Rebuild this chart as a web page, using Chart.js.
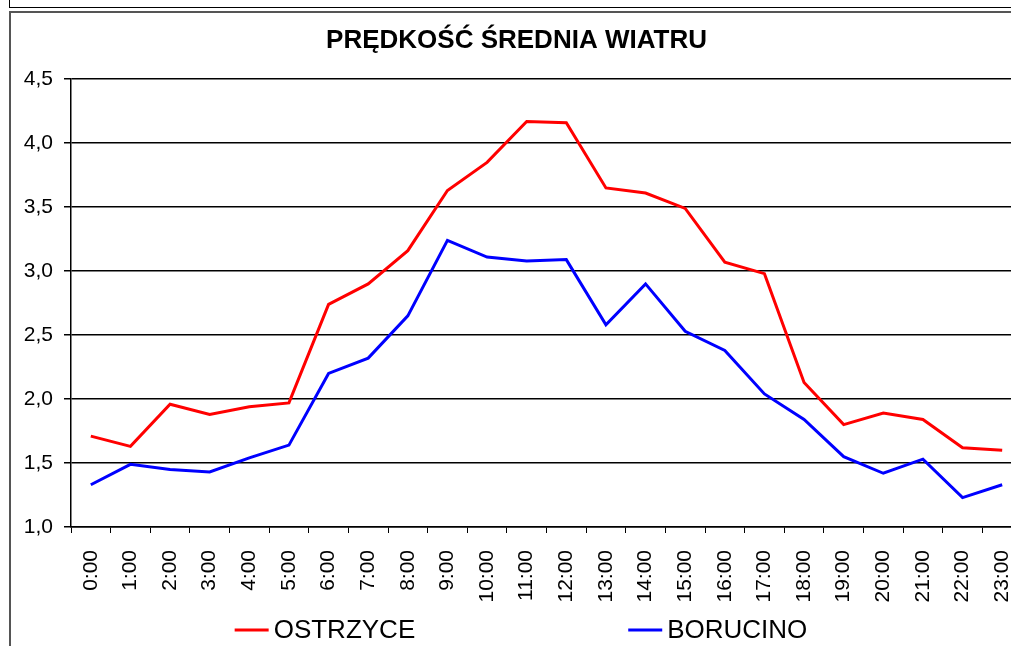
<!DOCTYPE html>
<html>
<head>
<meta charset="utf-8">
<title>Prędkość średnia wiatru</title>
<script src="https://cdn.jsdelivr.net/npm/chart.js@4.4.0/dist/chart.umd.min.js"></script>
<style>
  html, body { margin: 0; padding: 0; overflow: hidden; background: #fff; width: 1011px; height: 646px; }
  #topBox { position: absolute; left: 9px; top: -20px; width: 1100px; height: 26px; border: 1px solid #000; }
  #chartBox { position: absolute; left: 9px; top: 11px; width: 1100px; height: 700px; border-left: 2px solid #555; border-top: 2px solid #555; }
  #wrap { position: absolute; left: 11px; top: 13px; }
</style>
</head>
<body>
<div id="topBox"></div>
<div id="chartBox"></div>
<div id="wrap"><canvas id="chart" width="1020" height="660"></canvas></div>
<script>
const hours = ['0:00', '1:00', '2:00', '3:00', '4:00', '5:00', '6:00', '7:00', '8:00', '9:00', '10:00', '11:00',
  '12:00', '13:00', '14:00', '15:00', '16:00', '17:00', '18:00', '19:00', '20:00', '21:00', '22:00', '23:00'];

const ostrzyce = [1.71, 1.63, 1.96, 1.88, 1.94, 1.97, 2.74, 2.90, 3.16, 3.63, 3.85, 4.17,
  4.16, 3.65, 3.61, 3.49, 3.07, 2.98, 2.13, 1.80, 1.89, 1.84, 1.62, 1.60];

const borucino = [1.33, 1.49, 1.45, 1.43, 1.54, 1.64, 2.20, 2.32, 2.65, 3.24, 3.11, 3.08,
  3.09, 2.58, 2.90, 2.53, 2.38, 2.04, 1.84, 1.55, 1.42, 1.53, 1.23, 1.33];

const yMin = 1.0;
const yMax = 4.5;
const yStep = 0.5;

const FONT = '"Liberation Sans", Arial, sans-serif';
Chart.defaults.font.family = FONT;
Chart.defaults.color = '#000';

// legend drawn by hand: Excel puts the two entries far apart
const bottomLegend = {
  id: 'bottomLegend',
  afterDraw(chart) {
    const ctx = chart.ctx;
    const y = 617, lineLen = 34, gap = 213;
    ctx.save();
    ctx.font = '26px ' + FONT;
    ctx.textBaseline = 'middle';
    const items = chart.data.datasets.map(ds => ({ ds, w: lineLen + 5 + ctx.measureText(ds.label).width }));
    const total = items.reduce((s, it) => s + it.w, 0) + gap * (items.length - 1);
    let x = chart.width / 2 - total / 2;
    items.forEach(it => {
      ctx.strokeStyle = it.ds.borderColor;
      ctx.lineWidth = 3;
      ctx.beginPath();
      ctx.moveTo(x, y);
      ctx.lineTo(x + lineLen, y);
      ctx.stroke();
      ctx.fillStyle = '#000';
      ctx.fillText(it.ds.label, x + lineLen + 5, y + 1);
      x += it.w + gap;
    });
    ctx.restore();
  }
};

new Chart(document.getElementById('chart'), {
  type: 'line',
  data: {
    labels: hours,
    datasets: [
      { label: 'OSTRZYCE', data: ostrzyce, borderColor: '#ff0000', backgroundColor: '#ff0000',
        borderWidth: 3, pointRadius: 0, tension: 0, fill: false },
      { label: 'BORUCINO', data: borucino, borderColor: '#0000ff', backgroundColor: '#0000ff',
        borderWidth: 3, pointRadius: 0, tension: 0, fill: false }
    ]
  },
  options: {
    responsive: false,
    animation: false,
    layout: { padding: { left: 0, right: 9, top: 0, bottom: 46 } },
    plugins: {
      legend: { display: false },
      tooltip: { enabled: false },
      title: {
        display: true,
        text: 'PRĘDKOŚĆ ŚREDNIA WIATRU',
        color: '#000',
        font: { size: 26, weight: 'bold', family: FONT },
        padding: { top: 12, bottom: 23 }
      }
    },
    scales: {
      x: {
        offset: true,
        grid: { display: true, drawOnChartArea: false, drawTicks: true, tickLength: 6, offset: true, color: '#000', lineWidth: 1 },
        border: { display: true, color: '#000', width: 1.5 },
        ticks: { autoSkip: false, minRotation: 90, maxRotation: 90, padding: 17, font: { size: 21 } },
        afterFit(scale) { scale.height = 100; scale.paddingLeft = 0; scale.paddingRight = 0; }
      },
      y: {
        min: yMin,
        max: yMax,
        grid: { color: '#000', lineWidth: 1.5, tickLength: 7 },
        border: { display: true, color: '#000', width: 1.5 },
        ticks: {
          stepSize: yStep,
          padding: 11,
          font: { size: 21 },
          callback: v => v.toFixed(1).replace('.', ',')
        },
        afterFit(scale) { scale.width = 60; }
      }
    }
  },
  plugins: [bottomLegend]
});
</script>
</body>
</html>
